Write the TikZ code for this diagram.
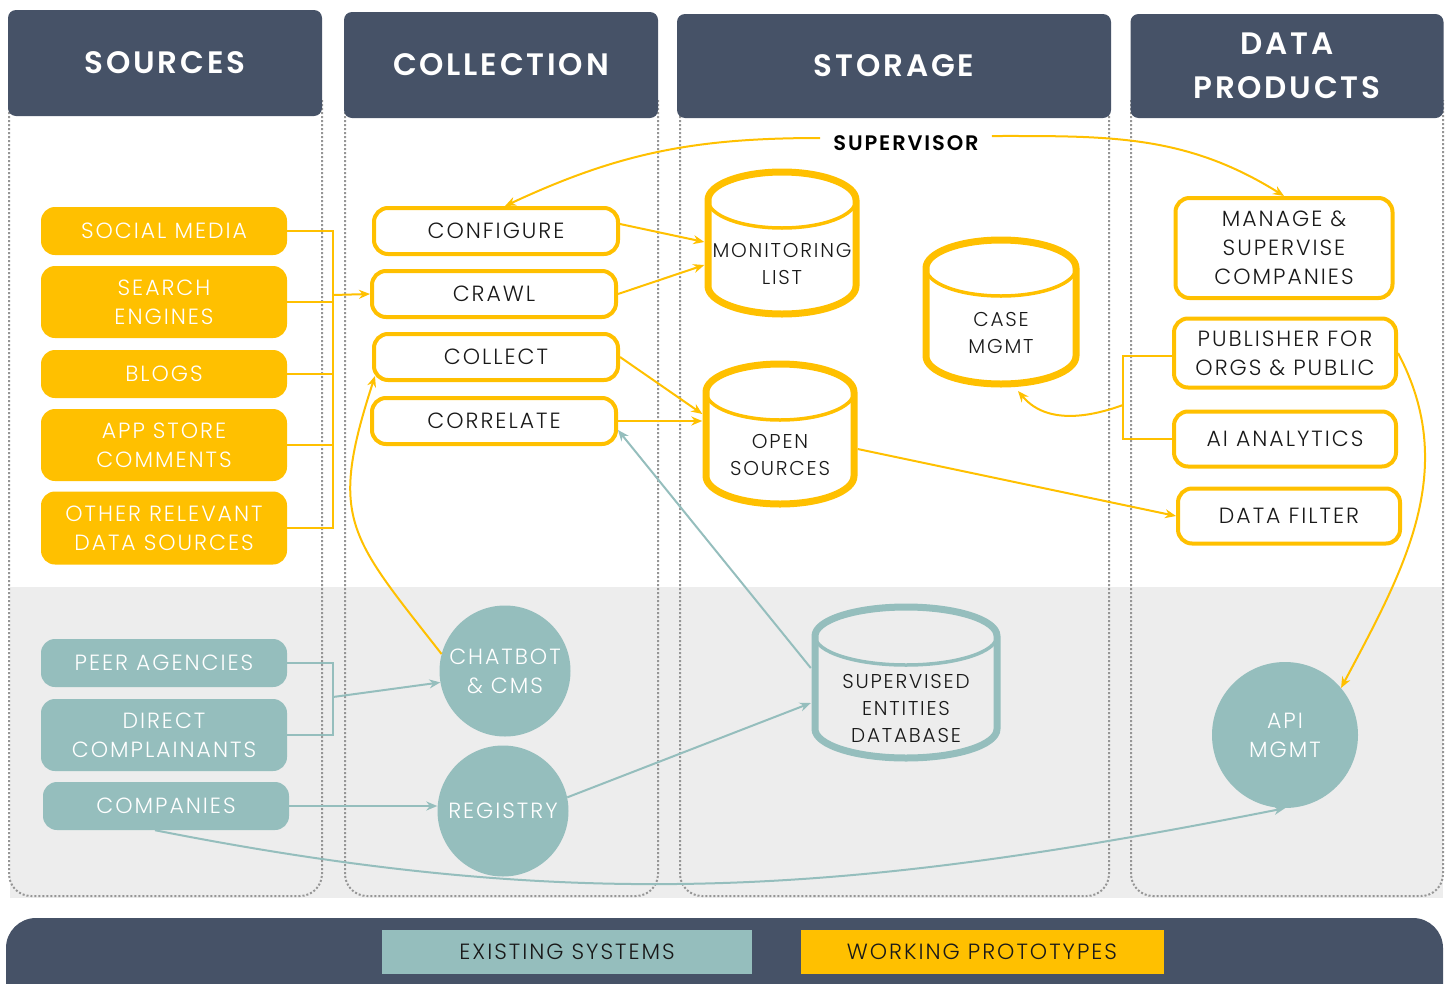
\documentclass[tikz,border=0pt]{standalone}
\usepackage{fontspec}
\setmainfont{Poppins}[UprightFont=* Light, BoldFont=* SemiBold, LetterSpace=9]
\usetikzlibrary{arrows.meta}

\definecolor{slate}{RGB}{70,82,103}
\definecolor{gold}{RGB}{255,192,0}
\definecolor{sea}{RGB}{149,190,189}
\definecolor{band}{RGB}{237,237,237}
\definecolor{dots}{RGB}{150,150,150}
\definecolor{ink}{RGB}{25,25,25}

\newcommand\boxfont{\fontsize{22}{29}\selectfont}
\newcommand\dbfont{\fontsize{20}{27}\selectfont}
\newcommand\supfont{\fontsize{21}{25}\selectfont\bfseries}
\newcommand\headfont{\fontsize{31}{44}\selectfont\bfseries}

% drum outline round a db node: name, half width, cap radius, top and bottom offset, colour
\newcommand\drumpath[6]{%
  \draw[line width=7, draw=#6, line join=round]
    ([xshift=-#2pt, yshift=#4pt-#3pt]#1.center) -- ([xshift=-#2pt, yshift=-#5pt+#3pt]#1.center)
    arc[start angle=180, end angle=360, x radius=#2pt, y radius=#3pt]
    -- ([xshift=#2pt, yshift=#4pt-#3pt]#1.center)
    arc[start angle=0, end angle=180, x radius=#2pt, y radius=#3pt] -- cycle;
  \draw[line width=3.5, draw=#6]
    ([xshift=-#2pt, yshift=#4pt-#3pt]#1.center)
    arc[start angle=180, end angle=360, x radius=#2pt, y radius=#3pt];
}

\tikzset{
  header/.style={fill=slate, rounded corners=8, text=white, font=\headfont, align=center},
  colframe/.style={draw=dots, line width=2, dash pattern=on 2pt off 2pt, rounded corners=22},
  srcbox/.style={fill=gold, rounded corners=14, text=white, minimum width=246, align=center, font=\boxfont},
  seabox/.style={srcbox, fill=sea},
  stepbox/.style={draw=gold, line width=4, fill=white, rounded corners=14, text=ink, align=center, font=\boxfont},
  db/.style={inner sep=0, minimum height=10, text=ink, align=center, font=\dbfont},
  hub/.style={circle, fill=sea, text=white, align=center, font=\boxfont},
  legend/.style={minimum width=370, minimum height=44, text=ink, font=\boxfont},
  yline/.style={draw=gold, line width=2},
  yarrow/.style={yline, -{Stealth[length=11pt,width=9pt]}},
  tline/.style={draw=sea, line width=2},
  tarrow/.style={tline, -{Stealth[length=11pt,width=9pt]}},
}

\begin{document}
\begin{tikzpicture}[x=1pt,y=-1pt]
  \clip (0,0) rectangle (1449,983);

  % lower band and column frames
  \fill[band] (10,587) rectangle (1443,898);
  \draw[colframe] (9,100) -- (9,896) -- (322,896) -- (322,100);
  \draw[colframe] (345,100) -- (345,896) -- (658,896) -- (658,100);
  \draw[colframe] (680,100) -- (680,896) -- (1109,896) -- (1109,100);
  \draw[colframe] (1131,100) -- (1131,896) -- (1443,896) -- (1443,100);

  % headers
  \node[header, minimum width=314, minimum height=106] (hsrc) at (165,63) {SOURCES};
  \node[header, minimum width=314, minimum height=106] (hcol) at (501,65) {COLLECTION};
  \node[header, minimum width=434, minimum height=104] (hsto) at (894,66) {STORAGE};
  \node[header, minimum width=313, minimum height=104] (hdat) at (1287,66) {DATA\\PRODUCTS};

  % sources
  \node[srcbox, minimum height=48] (social) at (164,231) {SOCIAL MEDIA};
  \node[srcbox, minimum height=72] (search) at (164,302) {SEARCH\\ENGINES};
  \node[srcbox, minimum height=48] (blogs) at (164,374) {BLOGS};
  \node[srcbox, minimum height=72] (appstore) at (164,445) {APP STORE\\COMMENTS};
  \node[srcbox, minimum height=73] (other) at (164,528) {OTHER RELEVANT\\DATA SOURCES};

  \node[seabox, minimum height=48] (peer) at (164,663) {PEER AGENCIES};
  \node[seabox, minimum height=72] (direct) at (164,735) {DIRECT\\COMPLAINANTS};
  \node[seabox, minimum height=48] (comp) at (166,806) {COMPANIES};

  % collection
  \node[stepbox, minimum width=244, minimum height=46] (configure) at (496,231) {CONFIGURE};
  \node[stepbox, minimum width=244, minimum height=46] (crawl) at (494,294) {CRAWL};
  \node[stepbox, minimum width=244, minimum height=46] (collect) at (496,357) {COLLECT};
  \node[stepbox, minimum width=244, minimum height=46] (correlate) at (494,421) {CORRELATE};

  \node[hub, minimum size=131] (chat) at (505,671) {CHATBOT\\\& CMS};
  \node[hub, minimum size=131] (reg) at (503,811) {REGISTRY};

  % storage
  \node[db, minimum width=155] (mon) at (782,264) {MONITORING\\LIST};
  \node[db, minimum width=155] (open) at (780,455) {OPEN\\SOURCES};
  \node[db, minimum width=157] (case) at (1001,333) {CASE\\MGMT};
  \node[db, minimum width=190] (ent) at (906,708) {SUPERVISED\\ENTITIES\\DATABASE};
  \drumpath{mon}{74}{28}{92}{50}{gold}
  \drumpath{open}{74}{28}{91}{49}{gold}
  \drumpath{case}{75}{28}{93}{51}{gold}
  \drumpath{ent}{91}{29}{101}{50}{sea}

  \node[font=\supfont, inner xsep=13] (sup) at (906,143) {SUPERVISOR};

  % data products
  \node[stepbox, minimum width=217, minimum height=100] (manage) at (1284,248) {MANAGE \&\\SUPERVISE\\COMPANIES};
  \node[stepbox, minimum width=222, minimum height=69] (pub) at (1285,353) {PUBLISHER FOR\\ORGS \& PUBLIC};
  \node[stepbox, minimum width=222, minimum height=55] (ai) at (1285,439) {AI ANALYTICS};
  \node[stepbox, minimum width=222, minimum height=55] (filter) at (1289,516) {DATA FILTER};

  \node[hub, minimum size=146] (api) at (1285,735) {API\\MGMT};

  % legend bar
  \fill[slate, rounded corners=30] (6,918) rectangle (1443,1030);
  \node[legend, fill=sea] (lexist) at (567,952) {EXISTING SYSTEMS};
  \node[legend, fill=gold, minimum width=363] (lproto) at (982,952) {WORKING PROTOTYPES};

  % source links
  \coordinate (srcbus) at (333,295);
  \draw[yline] (social.east) -- (social.east -| srcbus) -- (other.east -| srcbus) -- (other.east);
  \draw[yline] (search.east) -- (search.east -| srcbus);
  \draw[yline] (blogs.east) -- (blogs.east -| srcbus);
  \draw[yline] (appstore.east) -- (appstore.east -| srcbus);
  \draw[yarrow] (srcbus) -- (crawl.west);

  \coordinate (peerbus) at (333,697);
  \draw[tline] (peer.east) -- (peer.east -| peerbus) -- (direct.east -| peerbus) -- (direct.east);
  \draw[tarrow] (peerbus) -- (chat.190);
  \draw[tarrow] (comp.east) -- (comp.east -| reg.west);
  \draw[tarrow] (reg.12) -- ([yshift=5]ent.west);
  \draw[tarrow] ([yshift=40]ent.west) -- ([yshift=-9]correlate.east);
  \draw[tarrow] ([xshift=-11]comp.south) .. controls +(430,85) and +(-430,85) .. (api.south);

  % collection to storage
  \draw[yarrow] ([yshift=7]configure.east) -- ([yshift=22]mon.west);
  \draw[yarrow] (crawl.east) -- ([yshift=-1]mon.west);
  \draw[yarrow] (collect.east) -- ([yshift=41]open.west);
  \draw[yarrow] (correlate.east) -- (correlate.east -| open.west);
  \draw[yarrow] ([yshift=6]open.east) -- (filter.west);
  \draw[yarrow] (chat.165) to[out=128,in=-108,looseness=1.35] ([xshift=3,yshift=6]collect.south west);

  % supervisor
  \draw[yarrow] ([yshift=5]sup.west) to[out=180,in=25] ([xshift=9]configure.north);
  \draw[yarrow] ([yshift=7]sup.east) to[out=0,in=148] (manage.north);

  % data products links
  \draw[yarrow] (pub.east) to[out=-62,in=62] (api.40);
  \coordinate (dpbus) at (1123,405);
  \draw[yline] ([yshift=-3]pub.west) -- ([yshift=-3]pub.west -| dpbus) -- (ai.west -| dpbus) -- (ai.west);
  \draw[yarrow] (dpbus) to[out=200,in=-50] ([xshift=17,yshift=-58]case.center);
\end{tikzpicture}
\end{document}
